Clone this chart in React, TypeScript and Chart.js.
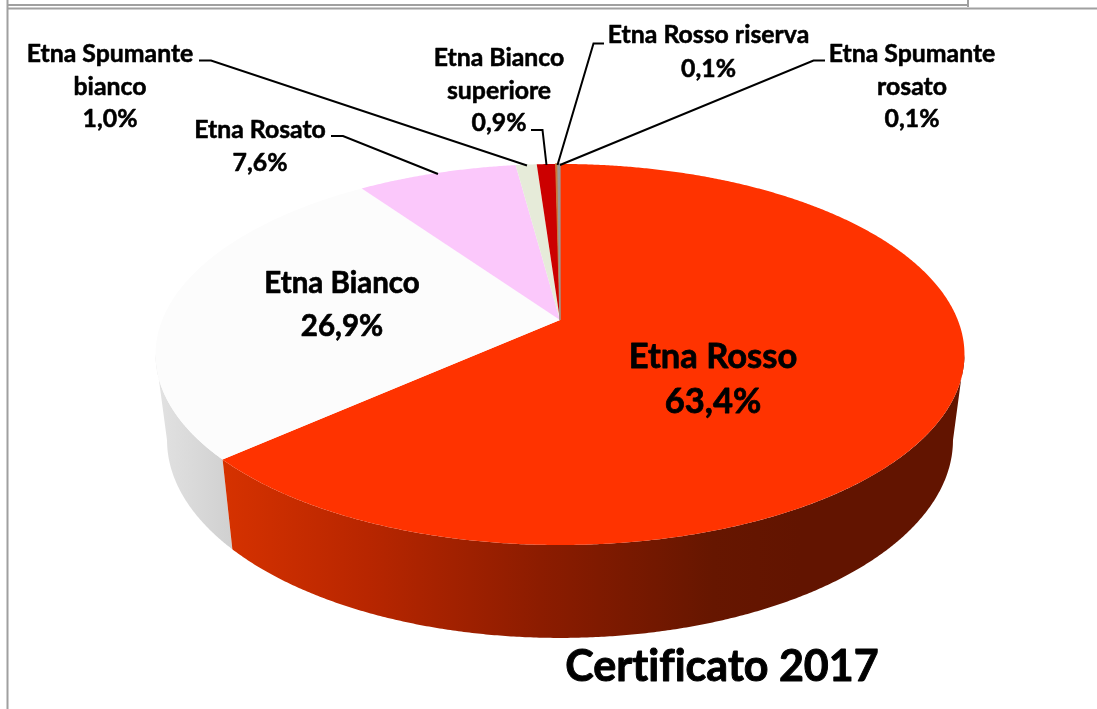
import React, { useEffect, useRef } from "react";
import { Chart, registerables } from "chart.js";

Chart.register(...registerables);

const categories = ["Etna Rosso", "Etna Bianco", "Etna Rosato", "Etna Spumante bianco", "Etna Bianco superiore", "Etna Rosso riserva", "Etna Spumante rosato"];
const shares = [63.4, 26.9, 7.6, 1.0, 0.9, 0.1, 0.1];
const topColors = ["#FF3300", "#FCFCFC", "#FBC8FB", "#E6EBD9", "#CC0000", "#C87A3A", "#999999"];
const chartTitle = "Certificato 2017";

// wrapped text for each label
const labelLines = [["Etna Rosso"], ["Etna Bianco"], ["Etna Rosato"], ["Etna Spumante", "bianco"], ["Etna Bianco", "superiore"], ["Etna Rosso riserva"], ["Etna Spumante", "rosato"]];
// label anchor: centre x, first baseline, line height, font size
const labelPlace = [[713, 368, 45, 34.5], [342, 293, 43, 29.5], [260, 138, 33, 24.8], [110, 62, 32.5, 24.8], [499, 66, 32.5, 24.8], [708.5, 43, 33.5, 24.8], [912, 62, 32.5, 24.8]];
// leader polylines
const leaders = [null, null, [[331, 136], [343, 136], [438, 174]], [[199, 60.5], [211, 60.5], [527, 165.5]], [[531, 130], [542.5, 130], [546.5, 165]], [[604, 43.5], [593.5, 43.5], [557.5, 165]], [[825, 60.5], [813.5, 60.5], [560, 165]]];

const FONT = "Lato, Carlito, sans-serif";

type Proj = { a: number; b: number; k: number; dy: number };
// tilted plane of the pie top and of its base
const TOP: Proj = { a: 1.2431, b: 0.5759, k: 0.181, dy: 0 };
const BASE: Proj = { a: 1.208, b: 0.5984, k: 0.18, dy: 84.4 };

function project(el: any, p: Proj, theta: number): [number, number] {
  const u = Math.sin(theta), v = -Math.cos(theta), d = 1 - p.k * v, r = el.outerRadius;
  return [el.x + (r * p.a * u) / d, el.y + p.dy + (r * p.b * v) / d];
}

function trace(ctx: CanvasRenderingContext2D, el: any, p: Proj, from: number, to: number, first: boolean) {
  const n = Math.max(2, Math.ceil(Math.abs(to - from) / 0.006));
  for (let i = 0; i <= n; i++) {
    const [x, y] = project(el, p, from + ((to - from) * i) / n);
    if (first && i === 0) ctx.moveTo(x, y);
    else ctx.lineTo(x, y);
  }
}

const rad = (d: number) => (d * Math.PI) / 180;

const pie3d = {
  id: "pie3d",
  beforeDatasetsDraw(chart: any) {
    const ctx: CanvasRenderingContext2D = chart.ctx;
    const arcs = chart.getDatasetMeta(0).data;
    const start = (el: any) => el.startAngle + Math.PI / 2;
    const end = (el: any) => el.endAngle + Math.PI / 2;
    ctx.save();

    // walls
    const wallRight = rad(100.4), wallLeft = rad(259.6), seam = end(arcs[0]);
    const grey = ctx.createLinearGradient(157, 0, 232, 0);
    grey.addColorStop(0, "#E2E2E2");
    grey.addColorStop(1, "#D0D0D0");
    ctx.beginPath();
    trace(ctx, arcs[1], TOP, seam, wallLeft, true);
    trace(ctx, arcs[1], BASE, wallLeft, seam, false);
    ctx.closePath();
    ctx.fillStyle = grey;
    ctx.fill();

    const red = ctx.createLinearGradient(222, 0, 800, 0);
    red.addColorStop(0, "#D63200");
    red.addColorStop(0.25, "#B82600");
    red.addColorStop(0.55, "#8C1C00");
    red.addColorStop(0.85, "#661600");
    red.addColorStop(1, "#621400");
    ctx.beginPath();
    trace(ctx, arcs[0], TOP, wallRight, seam, true);
    trace(ctx, arcs[0], BASE, seam, wallRight, false);
    ctx.closePath();
    ctx.fillStyle = red;
    ctx.fill();

    // top faces
    arcs.forEach((el: any, i: number) => {
      ctx.beginPath();
      ctx.moveTo(el.x, el.y);
      trace(ctx, el, TOP, start(el), end(el), false);
      ctx.closePath();
      ctx.fillStyle = topColors[i];
      ctx.fill();
      if (shares[i] < 0.5) {
        ctx.strokeStyle = topColors[i];
        ctx.lineWidth = 1.2;
        ctx.stroke();
      }
    });
    ctx.restore();
    return false;
  },
  afterDraw(chart: any) {
    const ctx: CanvasRenderingContext2D = chart.ctx;
    ctx.save();
    // frame of the sheet
    ctx.strokeStyle = "#A0A0A0";
    ctx.lineWidth = 2;
    ctx.beginPath();
    ctx.moveTo(7.5, 0); ctx.lineTo(7.5, 709);
    ctx.moveTo(7, 8.5); ctx.lineTo(1097, 8.5);
    ctx.moveTo(968, 0); ctx.lineTo(968, 7);
    ctx.moveTo(7, 5); ctx.lineTo(968, 5);
    ctx.stroke();

    // leaders
    ctx.strokeStyle = "#000";
    ctx.lineWidth = 2;
    leaders.forEach((pts) => {
      if (!pts) return;
      ctx.beginPath();
      pts.forEach(([x, y], i) => (i ? ctx.lineTo(x, y) : ctx.moveTo(x, y)));
      ctx.stroke();
    });

    // labels
    ctx.fillStyle = "#000";
    ctx.strokeStyle = "#000";
    ctx.textAlign = "center";
    ctx.textBaseline = "alphabetic";
    ctx.lineJoin = "round";
    (ctx as any).letterSpacing = "0.01px";
    const put = (t: string, x: number, y: number, size: number) => {
      ctx.font = `bold ${size}px ${FONT}`;
      ctx.lineWidth = size * 0.022;
      ctx.fillText(t, x, y);
      ctx.strokeText(t, x, y);
    };
    categories.forEach((_, i) => {
      const [x, y, lh, size] = labelPlace[i];
      const lines = [...labelLines[i], shares[i].toFixed(1).replace(".", ",") + "%"];
      lines.forEach((t, j) => put(t, x, y + j * lh, size));
    });
    put(chartTitle, 722, 681, 43);
    ctx.restore();
  },
};

export default function App() {
  const ref = useRef<HTMLCanvasElement>(null);
  useEffect(() => {
    const chart = new Chart(ref.current!, {
      type: "pie",
      data: { labels: categories, datasets: [{ data: shares, backgroundColor: topColors, borderWidth: 0 }] },
      options: {
        responsive: false,
        animation: false,
        layout: { padding: { left: 23, bottom: 69 } },
        plugins: { legend: { display: false }, tooltip: { enabled: false } },
      },
      plugins: [pie3d],
    } as any);
    return () => chart.destroy();
  }, []);
  return (
    <div style={{ position: "fixed", left: 0, top: 0, width: 1097, height: 709, background: "#fff" }}>
      <canvas ref={ref} width={1097} height={709} style={{ display: "block" }} />
    </div>
  );
}
